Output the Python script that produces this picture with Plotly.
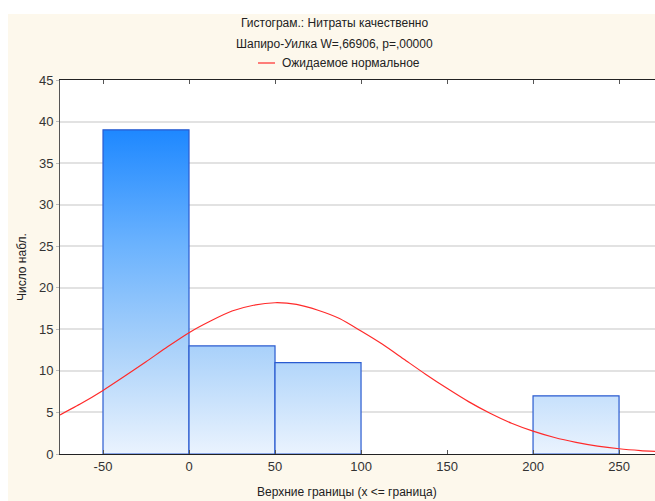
import plotly.graph_objects as go

# ---- data ----
bin_lower = [-50, 0, 50, 100, 200]
bin_upper = [0, 50, 100, 150, 250]
counts = [39, 13, 11, 0, 7]

curve_x = [-75, -62.5, -50, -37.5, -25, -12.5, 0, 12.5, 25, 37.5, 50, 62.5, 75, 87.5, 100,
           112.5, 125, 137.5, 150, 162.5, 175, 187.5, 200, 212.5, 225, 237.5, 250, 262.5, 275]
curve_y = [4.7, 6.1, 7.65, 9.35, 11.1, 12.9, 14.6, 16.0, 17.2, 17.9, 18.2, 18.0, 17.3, 16.3, 14.8,
           13.2, 11.4, 9.6, 7.9, 6.3, 4.9, 3.7, 2.75, 1.98, 1.4, 0.95, 0.63, 0.41, 0.26]

x_ticks = [-50, 0, 50, 100, 150, 200, 250]
y_ticks = [0, 5, 10, 15, 20, 25, 30, 35, 40, 45]

title_1 = "Гистограм.: Нитраты качественно"
title_2 = "Шапиро-Уилка W=,66906, p=,00000"
legend_text = "Ожидаемое нормальное"
x_title = "Верхние границы (x <= граница)"
y_title = "Число набл."

# ---- layout constants (body margin removed, screenshot coords == figure coords) ----
W, H = 655, 501
ML, MR, MT, MB = 60, 0, 80, 501 - 454
PW, PH = W - ML - MR, H - MT - MB
CREAM = "#FDF8EC"
FONT = "Liberation Sans, Arial, sans-serif"


def px2x(px):
    return (px - ML) / PW


def py2y(py):
    return 1 - (py - MT) / PH


fig = go.Figure()

ymax = max(counts)
scale = [[0.0, "#EAF3FE"], [0.33, "#A9D1FA"], [0.65, "#6AB2FE"], [1.0, "#1E88FF"]]
for lo, hi, c in zip(bin_lower, bin_upper, counts):
    if c <= 0:
        continue
    fig.add_trace(go.Scatter(
        x=[lo, lo, hi, hi, lo],
        y=[0, c, c, 0, 0],
        mode="lines",
        fill="toself",
        fillgradient=dict(type="vertical", colorscale=scale, start=0, stop=ymax),
        line=dict(color="#2A5BD0", width=1.2),
        hoverinfo="skip",
        showlegend=False,
    ))

fig.add_trace(go.Scatter(
    x=curve_x, y=curve_y, mode="lines",
    line=dict(color="#FF2A2A", width=1.2, shape="spline", smoothing=0.6),
    showlegend=False, hoverinfo="skip",
))

fig.update_layout(
    width=W, height=H,
    margin=dict(l=ML, r=MR, t=MT, b=MB),
    paper_bgcolor=CREAM,
    plot_bgcolor="white",
    font=dict(family=FONT, size=12, color="#222"),
    showlegend=False,
)

fig.update_xaxes(
    range=[-75, 270.9], tickvals=x_ticks, ticktext=[str(v) for v in x_ticks],
    showgrid=False, zeroline=False,
    showline=True, linecolor="#222", linewidth=1, mirror="ticks",
    ticks="inside", ticklen=4, tickcolor="#555",
    tickfont=dict(size=13, color="#333", family=FONT),
)
fig.update_yaxes(
    range=[0, 45], tickvals=y_ticks, ticktext=[str(v) for v in y_ticks],
    showgrid=True, gridcolor="#E2E2E2", gridwidth=1.5, zeroline=False,
    showline=True, linecolor="#555", linewidth=1, mirror=False,
    ticks="outside", ticklen=3, tickcolor="#BBBBBB",
    tickfont=dict(size=13, color="#333", family=FONT),
)

# white strips outside the cream panel
fig.add_shape(type="rect", xref="paper", yref="paper", layer="below",
              x0=px2x(-5), x1=px2x(700), y0=py2y(14), y1=py2y(-5),
              fillcolor="white", line=dict(width=0))
fig.add_shape(type="rect", xref="paper", yref="paper", layer="below",
              x0=px2x(-5), x1=px2x(8), y0=py2y(510), y1=py2y(-5),
              fillcolor="white", line=dict(width=0))

# titles
cx = px2x(334)
fig.add_annotation(text=title_1, xref="paper", yref="paper", x=cx, y=py2y(23),
                   showarrow=False, xanchor="center", yanchor="middle",
                   font=dict(size=12, color="#222", family=FONT))
fig.add_annotation(text=title_2, xref="paper", yref="paper", x=cx, y=py2y(44),
                   showarrow=False, xanchor="center", yanchor="middle",
                   font=dict(size=12, color="#222", family=FONT))
# legend
fig.add_shape(type="line", xref="paper", yref="paper",
              x0=px2x(258), x1=px2x(275), y0=py2y(63), y1=py2y(63),
              line=dict(color="#FF2A2A", width=1.2))
fig.add_annotation(text=legend_text, xref="paper", yref="paper", x=px2x(280), y=py2y(63),
                   showarrow=False, xanchor="left", yanchor="middle",
                   font=dict(size=12, color="#222", family=FONT))
# axis titles
fig.add_annotation(text=x_title, xref="paper", yref="paper", x=px2x(347), y=py2y(492),
                   showarrow=False, xanchor="center", yanchor="middle",
                   font=dict(size=12, color="#222", family=FONT))
fig.add_annotation(text=y_title, xref="paper", yref="paper", x=px2x(22), y=py2y(267),
                   showarrow=False, xanchor="center", yanchor="middle", textangle=-90,
                   font=dict(size=12, color="#222", family=FONT))

fig.write_html(
    "out.html",
    config={"displayModeBar": False},
    post_script=(
        "document.documentElement.style.overflow='hidden';"
        "document.body.style.overflow='hidden';"
        "document.body.style.margin='0';document.body.style.padding='0';"
    ),
)
